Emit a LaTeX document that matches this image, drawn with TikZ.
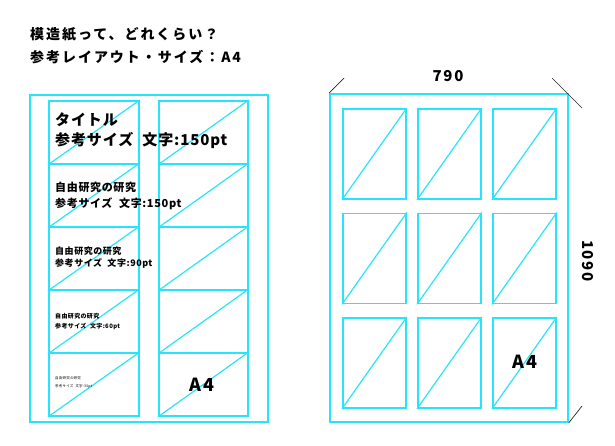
\documentclass[tikz,border=0pt]{standalone}
\usepackage{fontspec}
\setmainfont{Noto Sans CJK JP}
\usetikzlibrary{positioning}

\definecolor{guide}{RGB}{40,228,250}
\tikzset{
  sheet/.style={draw=guide, line width=1.8pt, inner sep=0pt, anchor=north west},
  cell/.style={draw=guide, line width=1.8pt, inner sep=0pt, anchor=north west},
  diag/.style={draw=guide, line width=1.2pt},
  tick/.style={draw=black!85, line width=0.7pt},
  caption/.style={inner sep=0pt, align=left, anchor=north west},
}
\newcommand{\gapsp}{\hspace{0.6em}}

\begin{document}
\begin{tikzpicture}[x=1pt,y=-1pt]
            \useasboundingbox (0,0) rectangle (615,445);

            % Title
            \node[caption, font=\fontsize{14}{23}\selectfont\bfseries\addfontfeatures{LetterSpace=14}] (title) at (30,27)
              {模造紙って、どれくらい？\\参考レイアウト・サイズ：A4};

            % Left sheet with A4 cells
            \node[sheet, minimum width=238pt, minimum height=327pt] (left) at (29,94) {};
            \foreach \r in {1,...,5} {
              \foreach \c/\x/\w in {1/48/90, 2/158/89} {
                \node[cell, minimum width=\w pt, minimum height=63pt] (L\r\c) at (\x, {100+63*(\r-1)}) {};
                \draw[diag] (L\r\c.south west) -- (L\r\c.north east);
              }
            }

            % Sample texts
            \node[caption, font=\fontsize{15}{20}\selectfont\bfseries\addfontfeatures{LetterSpace=6}] (txt1) at ([shift={(7,13)}]L11.north west)
              {タイトル\\参考サイズ\gapsp 文字:150pt};
            \node[caption, font=\fontsize{11}{16}\selectfont\bfseries\addfontfeatures{LetterSpace=6}] (txt2) at ([shift={(7,19)}]L21.north west)
              {自由研究の研究\\参考サイズ\gapsp 文字:150pt};
            \node[caption, font=\fontsize{9}{12}\selectfont\bfseries\addfontfeatures{LetterSpace=6}] (txt3) at ([shift={(7,21)}]L31.north west)
              {自由研究の研究\\参考サイズ\gapsp 文字:90pt};
            \node[caption, font=\fontsize{6}{10}\selectfont\bfseries\addfontfeatures{LetterSpace=6}] (txt4) at ([shift={(7,24)}]L41.north west)
              {自由研究の研究\\参考サイズ\gapsp 文字:60pt};
            \node[caption, font=\fontsize{3.5}{8}\selectfont\addfontfeatures{LetterSpace=6}] (txt5) at ([shift={(7,24)}]L51.north west)
              {自由研究の研究\\参考サイズ\gapsp 文字:30pt};
            \node[font=\fontsize{18}{18}\selectfont\bfseries\addfontfeatures{LetterSpace=8}] (a4left) at (202,385) {A4};

            % Right sheet with 3 x 3 cells
            \node[sheet, minimum width=238pt, minimum height=328pt] (right) at (329,93) {};
            \foreach \r in {1,2,3} {
              \foreach \c in {1,2,3} {
                \node[cell, minimum width=63pt, minimum height=90pt] (R\r\c) at ({342+75*(\c-1)}, {108+104.5*(\r-1)}) {};
                \draw[diag] (R\r\c.south west) -- (R\r\c.north east);
              }
            }
            \node[font=\fontsize{18}{18}\selectfont\bfseries\addfontfeatures{LetterSpace=8}] (a4right) at (525,362) {A4};

            % Dimensions
            \coordinate (tl) at (344,78);
            \coordinate (tra) at (552,78);
            \coordinate (trb) at (582,108);
            \coordinate (br) at (582,406);
            \draw[tick] (right.north west) -- (tl);
            \draw[tick] (tra) -- (trb);
            \draw[tick] (right.south east) -- (br);
            \node[font=\fontsize{15}{15}\selectfont\bfseries\addfontfeatures{LetterSpace=12}] (width) at (448,76) {790};
            \node[rotate=-90, font=\fontsize{15}{15}\selectfont\bfseries\addfontfeatures{LetterSpace=12}] (height) at (588,261) {1090};
\end{tikzpicture}
\end{document}
